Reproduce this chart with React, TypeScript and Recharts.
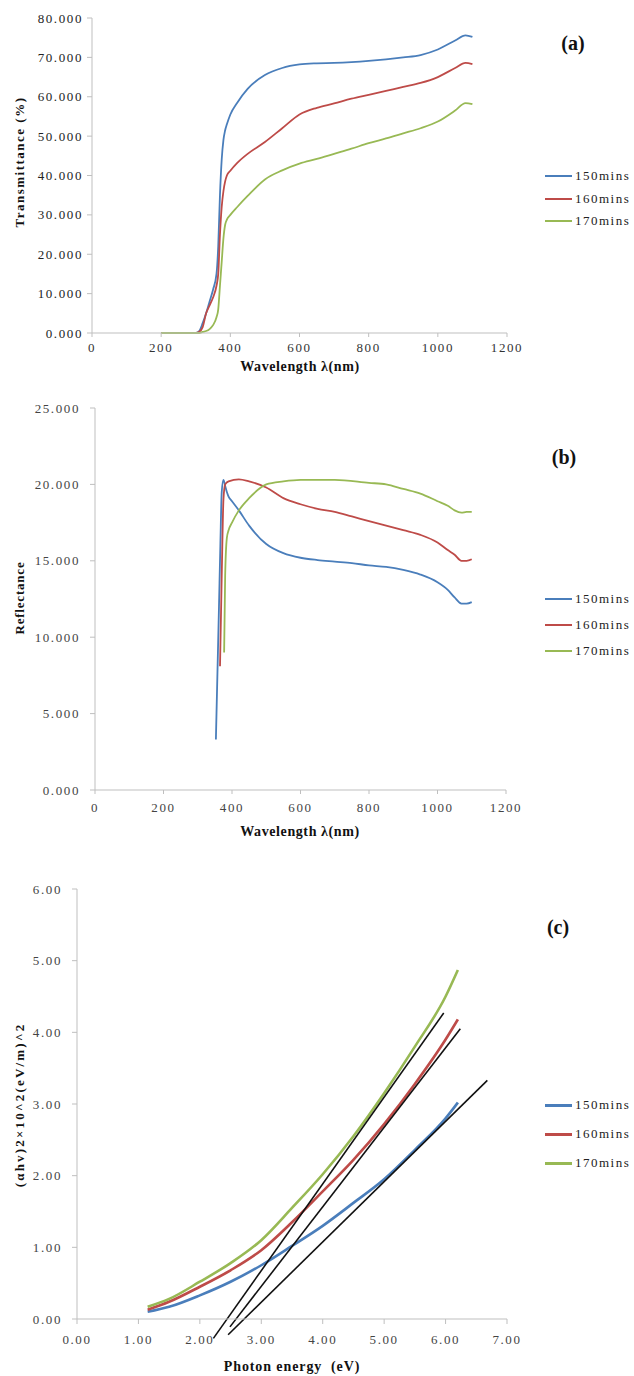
import { LineChart, Line, XAxis, YAxis, ReferenceLine } from "recharts";

const SERIES = ["150mins", "160mins", "170mins"];
const COLORS = ["#4a7ebb", "#be4b48", "#98b954"];
const FONT = '"Liberation Serif", "Times New Roman", serif';

// (a) transmittance
const aWavelength = [200, 300, 310, 320, 330, 340, 350, 360, 365, 370, 375, 380, 385, 390, 400, 420, 450, 500, 550, 600, 650, 700, 750, 800, 850, 900, 950, 1000, 1050, 1080, 1100];
const a150 = [0, 0, 0.5, 2.5, 5, 8, 11, 15, 22, 35, 44, 49, 51.5, 53, 55.5, 58.5, 62, 65.5, 67.3, 68.2, 68.5, 68.6, 68.8, 69.1, 69.5, 70, 70.6, 72, 74.3, 75.6, 75.2];
const a160 = [0, 0, 0.3, 1.5, 5, 7, 9, 12, 15, 25, 32, 36, 38.5, 40, 41.2, 43.2, 45.5, 48.5, 52, 55.5, 57.2, 58.3, 59.5, 60.5, 61.5, 62.5, 63.5, 65, 67.3, 68.6, 68.3];
const a170 = [0, 0, 0, 0.3, 0.5, 1, 2, 4, 6, 12, 18, 24, 27.5, 28.8, 30, 32, 34.8, 39, 41.3, 43, 44.2, 45.5, 46.8, 48.2, 49.4, 50.7, 52, 53.7, 56.5, 58.4, 58.1];
const aYTicks = [0, 10, 20, 30, 40, 50, 60, 70, 80];
const wlTicks = [0, 200, 400, 600, 800, 1000, 1200];

// (b) reflectance
const b150X = [353, 362, 366, 370, 375, 380, 385, 390, 400, 420, 450, 500, 550, 600, 650, 700, 750, 800, 850, 900, 950, 1000, 1030, 1050, 1070, 1085, 1100];
const b150Y = [3.3, 12, 16, 19.5, 20.3, 19.9, 19.5, 19.2, 18.9, 18.3, 17.3, 16.1, 15.5, 15.2, 15.05, 14.95, 14.85, 14.7, 14.6, 14.4, 14.1, 13.6, 13.1, 12.6, 12.2, 12.2, 12.3];
const b160X = [365, 370, 375, 380, 390, 420, 450, 500, 550, 600, 650, 700, 750, 800, 850, 900, 950, 1000, 1030, 1050, 1070, 1085, 1100];
const b160Y = [8.1, 14, 19, 20.0, 20.2, 20.33, 20.2, 19.8, 19.1, 18.7, 18.4, 18.2, 17.9, 17.6, 17.3, 17.0, 16.7, 16.2, 15.7, 15.4, 15.0, 15.0, 15.1];
const b170X = [377, 380, 385, 390, 400, 420, 450, 500, 550, 600, 700, 800, 850, 900, 950, 1000, 1030, 1050, 1070, 1085, 1100];
const b170Y = [9.0, 14, 16.5, 17.0, 17.5, 18.3, 19.1, 20.0, 20.2, 20.3, 20.3, 20.1, 20.0, 19.7, 19.4, 18.9, 18.6, 18.3, 18.15, 18.2, 18.2];
const bYTicks = [0, 5, 10, 15, 20, 25];

// (c) Tauc plot
const cEnergy = [1.15, 1.5, 2.0, 2.5, 3.0, 3.5, 4.0, 4.5, 5.0, 5.5, 6.0, 6.2];
const c150 = [0.1, 0.17, 0.33, 0.52, 0.75, 1.02, 1.3, 1.62, 1.95, 2.36, 2.8, 3.02];
const c160 = [0.13, 0.24, 0.45, 0.68, 0.96, 1.35, 1.78, 2.22, 2.72, 3.28, 3.9, 4.18];
const c170 = [0.17, 0.28, 0.52, 0.78, 1.1, 1.55, 2.02, 2.55, 3.15, 3.8, 4.5, 4.87];
const cYTicks = [0, 1, 2, 3, 4, 5, 6];
const cXTicks = [0, 1, 2, 3, 4, 5, 6, 7];
// linear fits (start / end points)
const fitX1 = [2.22, 2.49, 2.46];
const fitY1 = [-0.27, -0.11, -0.22];
const fitX2 = [5.97, 6.24, 6.68];
const fitY2 = [4.27, 4.05, 3.33];

const aData = aWavelength.map((x, i) => ({ x, s0: a150[i], s1: a160[i], s2: a170[i] }));
const bData = [
  b150X.map((x, i) => ({ x, y: b150Y[i] })),
  b160X.map((x, i) => ({ x, y: b160Y[i] })),
  b170X.map((x, i) => ({ x, y: b170Y[i] })),
];
const cData = cEnergy.map((x, i) => ({ x, s0: c150[i], s1: c160[i], s2: c170[i] }));

const axisColor = "#bfbfbf";
const tickStyle = { fontFamily: FONT, fontSize: 13, fill: "#333", letterSpacing: 1.6 };

function Legend({ top, width, gap }: { top: number; width: number; gap: number }) {
  return (
    <>
      {SERIES.map((s, i) => (
        <div
          key={s}
          style={{
            position: "absolute",
            left: 545,
            top: Math.round(top + i * gap - 9),
            height: 18,
            display: "flex",
            alignItems: "center",
            fontFamily: FONT,
            fontSize: 13,
            letterSpacing: 1.5,
            color: "#222",
            whiteSpace: "nowrap",
          }}
        >
          <span style={{ display: "inline-block", width: 27, height: width, background: COLORS[i], marginRight: 3 }} />
          {s}
        </div>
      ))}
    </>
  );
}

function VLabel({ x, y, text, spacing }: { x: number; y: number; text: string; spacing: number }) {
  return (
    <div
      style={{
        position: "absolute",
        left: x,
        top: y,
        transform: "translate(-50%, -50%) rotate(-90deg)",
        fontFamily: FONT,
        fontWeight: "bold",
        fontSize: 13,
        letterSpacing: spacing,
        whiteSpace: "nowrap",
        color: "#111",
      }}
    >
      {text}
    </div>
  );
}

function HLabel({ x, y, text, size = 14, spacing = 0.6 }: { x: number; y: number; text: string; size?: number; spacing?: number }) {
  return (
    <div
      style={{
        position: "absolute",
        left: x,
        top: y,
        transform: "translate(-50%, -50%)",
        fontFamily: FONT,
        fontWeight: "bold",
        fontSize: size,
        letterSpacing: spacing,
        whiteSpace: "pre",
        color: "#111",
      }}
    >
      {text}
    </div>
  );
}

export default function App() {
  return (
    <div style={{ position: "absolute", left: 0, top: 0, width: 634, height: 1376, background: "#fff", overflow: "hidden" }}>
      {/* (a) */}
      <div style={{ position: "absolute", left: 0, top: 0 }}>
        <LineChart width={634} height={380} data={aData} margin={{ top: 18, right: 127, bottom: 17, left: 22 }}>
          <XAxis
            dataKey="x"
            type="number"
            domain={[0, 1200]}
            ticks={wlTicks}
            stroke={axisColor}
            tickSize={4}
            tickMargin={6}
            tick={tickStyle}
            height={30}
          />
          <YAxis
            type="number"
            domain={[0, 80]}
            ticks={aYTicks}
            tickFormatter={(v) => v.toFixed(3)}
            stroke={axisColor}
            tickSize={5}
            tickMargin={4}
            tick={{ ...tickStyle, fill: "#222" }}
            width={70}
          />
          {[0, 1, 2].map((i) => (
            <Line key={i} type="monotone" dataKey={`s${i}`} stroke={COLORS[i]} strokeWidth={1.8} dot={false} isAnimationActive={false} />
          ))}
        </LineChart>
      </div>
      <VLabel x={20} y={162} text="Transmittance (%)" spacing={1.5} />
      <HLabel x={300} y={367} text="Wavelength λ(nm)" />
      <HLabel x={573} y={43} text="(a)" size={20} spacing={0} />
      <Legend top={176} width={2} gap={22.5} />

      {/* (b) */}
      <div style={{ position: "absolute", left: 0, top: 390 }}>
        <LineChart width={634} height={450} margin={{ top: 18, right: 128, bottom: 20, left: 25 }}>
          <XAxis
            dataKey="x"
            type="number"
            domain={[0, 1200]}
            ticks={wlTicks}
            stroke={axisColor}
            tickSize={4}
            tickMargin={9}
            tick={{ ...tickStyle, fill: "#444" }}
            height={30}
            allowDuplicatedCategory={false}
          />
          <YAxis
            type="number"
            domain={[0, 25]}
            ticks={bYTicks}
            tickFormatter={(v) => v.toFixed(3)}
            stroke={axisColor}
            tickSize={5}
            tickMargin={10}
            tick={{ ...tickStyle, fill: "#444" }}
            width={70}
          />
          {[0, 1, 2].map((i) => (
            <Line key={i} type="monotone" data={bData[i]} dataKey="y" stroke={COLORS[i]} strokeWidth={1.8} dot={false} isAnimationActive={false} />
          ))}
        </LineChart>
      </div>
      <VLabel x={20} y={598} text="Reflectance" spacing={0.8} />
      <HLabel x={300} y={832} text="Wavelength λ(nm)" />
      <HLabel x={564} y={457} text="(b)" size={20} spacing={0} />
      <Legend top={599} width={2} gap={26} />

      {/* (c) */}
      <div style={{ position: "absolute", left: 0, top: 860 }}>
        <LineChart width={634} height={516} data={cData} margin={{ top: 29, right: 127, bottom: 27, left: 17 }}>
          <XAxis
            dataKey="x"
            type="number"
            domain={[0, 7]}
            ticks={cXTicks}
            tickFormatter={(v) => v.toFixed(2)}
            stroke={axisColor}
            tickSize={5}
            tickMargin={11}
            tick={{ ...tickStyle, fill: "#444" }}
            height={30}
          />
          <YAxis
            type="number"
            domain={[0, 6]}
            ticks={cYTicks}
            tickFormatter={(v) => v.toFixed(2)}
            stroke={axisColor}
            tickSize={5}
            tickMargin={10}
            tick={{ ...tickStyle, fill: "#444" }}
            width={60}
          />
          {[0, 1, 2].map((i) => (
            <Line key={i} type="monotone" dataKey={`s${i}`} stroke={COLORS[i]} strokeWidth={2.6} dot={false} isAnimationActive={false} />
          ))}
          {fitX1.map((x, i) => (
            <ReferenceLine
              key={`fit${i}`}
              segment={[
                { x, y: fitY1[i] },
                { x: fitX2[i], y: fitY2[i] },
              ]}
              stroke="#111"
              strokeWidth={1.6}
              ifOverflow="visible"
            />
          ))}
        </LineChart>
      </div>
      <VLabel x={20} y={1105} text="(αhv)2×10^2(eV/m)^2" spacing={2.2} />
      <HLabel x={292} y={1367} text="Photon energy  (eV)" spacing={0.9} />
      <HLabel x={558} y={927} text="(c)" size={20} spacing={0} />
      <Legend top={1105} width={3} gap={29} />
    </div>
  );
}
